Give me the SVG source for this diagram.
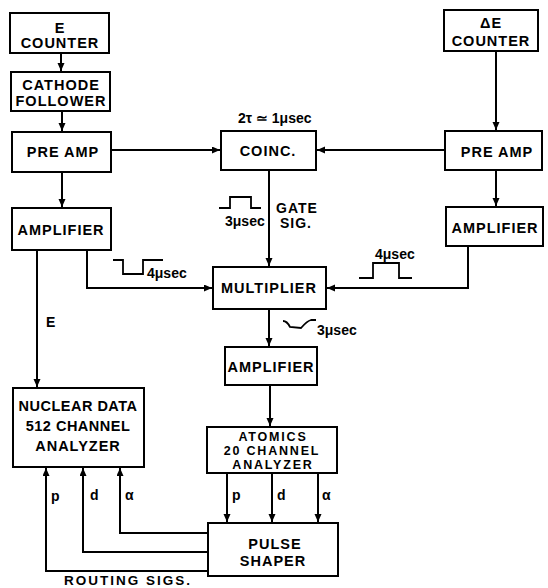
<svg xmlns="http://www.w3.org/2000/svg" width="548" height="588" viewBox="0 0 548 588">
<defs>
<marker id="ah" markerUnits="userSpaceOnUse" markerWidth="9" markerHeight="8" refX="8" refY="3.5" orient="auto">
<path d="M0,0 L8,3.5 L0,7 z" fill="#000"/>
</marker>
<style>
.box{fill:#fff;stroke:#000;stroke-width:2}
.t{font-family:"Liberation Sans",Arial,sans-serif;font-weight:bold;font-size:14.5px;letter-spacing:1px;text-anchor:middle;fill:#000}
.s{font-family:"Liberation Sans",Arial,sans-serif;font-weight:bold;font-size:14px;fill:#000}
.c{fill:none;stroke:#000;stroke-width:2}
.a{marker-end:url(#ah)}
.w{fill:none;stroke:#000;stroke-width:1.8}
.sm{font-size:12.5px;letter-spacing:1.8px}
</style>
</defs>
<rect width="548" height="588" fill="#fff"/>

<g id="connectors">
<path class="c a" d="M61,53 V71"/>
<path class="c a" d="M62,111 V131"/>
<path class="c a" d="M111,150 H220"/>
<path class="c a" d="M496,51 V130"/>
<path class="c a" d="M445,150 H317"/>
<path class="c a" d="M62,172 V207"/>
<path class="c a" d="M496,170 V206"/>
<path class="c a" d="M37,250 V387"/>
<path class="c a" d="M87,250 V288 H212"/>
<path class="c a" d="M468,246 V288 H327"/>
<path class="c a" d="M269,170 V266"/>
<path class="c a" d="M269,309 V346"/>
<path class="c a" d="M270,385 V426"/>
<path class="c a" d="M227,473 V522"/>
<path class="c a" d="M272,473 V522"/>
<path class="c a" d="M318,473 V522"/>
<path class="c a" d="M208,533 H120 V468"/>
<path class="c a" d="M208,552 H83 V468"/>
<path class="c a" d="M208,571 H46 V468"/>
</g>

<g id="waveforms">
<path class="w" d="M219,208 H230 V197 H251 V208 H261"/>
<path class="w" d="M113,260 H123 V274 H143 V260 H163"/>
<path class="w" d="M359,278 H373 V263 H399 V278 H412"/>
<path class="w" d="M283,321 Q287,321 290,327 L301,328 Q307,321 311,320 H316"/>
</g>

<g id="labels">
<text class="s" x="238" y="123">2τ ≃ 1μsec</text>
<text class="s" x="225" y="226">3μsec</text>
<text class="s" x="276" y="213" style="letter-spacing:1px">GATE</text>
<text class="s" x="280" y="228" style="letter-spacing:1px">SIG.</text>
<text class="s" x="147" y="278">4μsec</text>
<text class="s" x="375" y="259">4μsec</text>
<text class="s" x="317" y="335">3μsec</text>
<text class="s" x="46" y="327">E</text>
<text class="s" x="51" y="501">p</text>
<text class="s" x="90" y="500">d</text>
<text class="s" x="125" y="500">α</text>
<text class="s" x="232" y="500">p</text>
<text class="s" x="277" y="500">d</text>
<text class="s" x="322" y="500">α</text>
<text class="t" x="128" y="585" style="letter-spacing:2px;font-size:13.5px">ROUTING SIGS.</text>
</g>

<g id="e-counter">
<rect class="box" x="10" y="13" width="99" height="40"/>
<text class="t" x="60" y="33">E</text>
<text class="t" x="60" y="48">COUNTER</text>
</g>
<g id="cathode-follower">
<rect class="box" x="11" y="72" width="99" height="39"/>
<text class="t" x="61" y="90">CATHODE</text>
<text class="t" x="61" y="106">FOLLOWER</text>
</g>
<g id="preamp-left">
<rect class="box" x="12" y="132" width="99" height="40"/>
<text class="t" x="63" y="157">PRE AMP</text>
</g>
<g id="coinc">
<rect class="box" x="221" y="131" width="95" height="39"/>
<text class="t" x="268" y="156">COINC.</text>
</g>
<g id="de-counter">
<rect class="box" x="444" y="10" width="94" height="41"/>
<text class="t" x="491" y="28">ΔE</text>
<text class="t" x="491" y="46">COUNTER</text>
</g>
<g id="preamp-right">
<rect class="box" x="445" y="131" width="97" height="39"/>
<text class="t" x="497" y="157">PRE AMP</text>
</g>
<g id="amplifier-left">
<rect class="box" x="12" y="208" width="99" height="42"/>
<text class="t" x="61" y="235">AMPLIFIER</text>
</g>
<g id="amplifier-right">
<rect class="box" x="446" y="207" width="97" height="39"/>
<text class="t" x="495" y="233">AMPLIFIER</text>
</g>
<g id="multiplier">
<rect class="box" x="213" y="267" width="113" height="42"/>
<text class="t" x="269" y="293">MULTIPLIER</text>
</g>
<g id="amplifier-center">
<rect class="box" x="225" y="347" width="92" height="38"/>
<text class="t" x="271" y="372">AMPLIFIER</text>
</g>
<g id="nuclear-data">
<rect class="box" x="13" y="388" width="131" height="79"/>
<text class="t" x="78" y="411" style="letter-spacing:0.5px">NUCLEAR DATA</text>
<text class="t" x="78" y="431" style="letter-spacing:0.5px">512 CHANNEL</text>
<text class="t" x="78" y="451">ANALYZER</text>
</g>
<g id="atomics">
<rect class="box" x="207" y="427" width="130" height="46"/>
<text class="t sm" x="273" y="441">ATOMICS</text>
<text class="t sm" x="272" y="455">20 CHANNEL</text>
<text class="t sm" x="273" y="469">ANALYZER</text>
</g>
<g id="pulse-shaper">
<rect class="box" x="208" y="523" width="130" height="53"/>
<text class="t" x="275" y="549">PULSE</text>
<text class="t" x="273" y="566">SHAPER</text>
</g>
</svg>
